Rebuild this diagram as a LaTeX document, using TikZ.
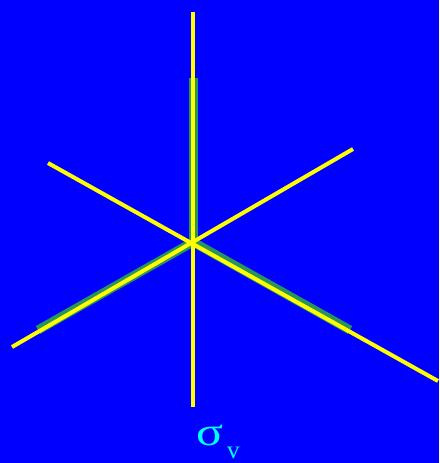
\documentclass[tikz,border=0pt]{standalone}
\usepackage{fontspec}
\setmainfont{Liberation Serif}
\usepackage{tikz}
\definecolor{fundo}{RGB}{0,0,255}
\definecolor{plano}{RGB}{40,150,90}
\definecolor{eixo}{RGB}{255,255,0}
\definecolor{rotulo}{RGB}{0,255,255}

\begin{document}
\begin{tikzpicture}[x=1pt,y=-1pt]
\fill[fundo] (0,0) rectangle (439,463); % Fundo
\useasboundingbox (0,0) rectangle (439,463);
\coordinate (O) at (193,242); % Centro
% Plano de simetria (sombra)
\draw[plano,line width=9pt] (193,78) -- (O);
\draw[plano,line width=9pt] (38,330) -- (O) -- (350,330);
% Eixos
\draw[eixo,line width=4pt] (193,12) -- (193,407);
\draw[eixo,line width=4pt] (48,163) -- (438,381);
\draw[eixo,line width=4pt] (353,149) -- (12,347);
% Rotulo
\node[rotulo,anchor=base west,inner sep=0pt,xscale=1.25] (sigma) at (196,445) {\fontsize{40}{40}\selectfont σ};
\node[rotulo,anchor=base west,inner sep=0pt] (v) at (227,458) {\fontsize{25}{25}\selectfont v};
\end{tikzpicture}
\end{document}
